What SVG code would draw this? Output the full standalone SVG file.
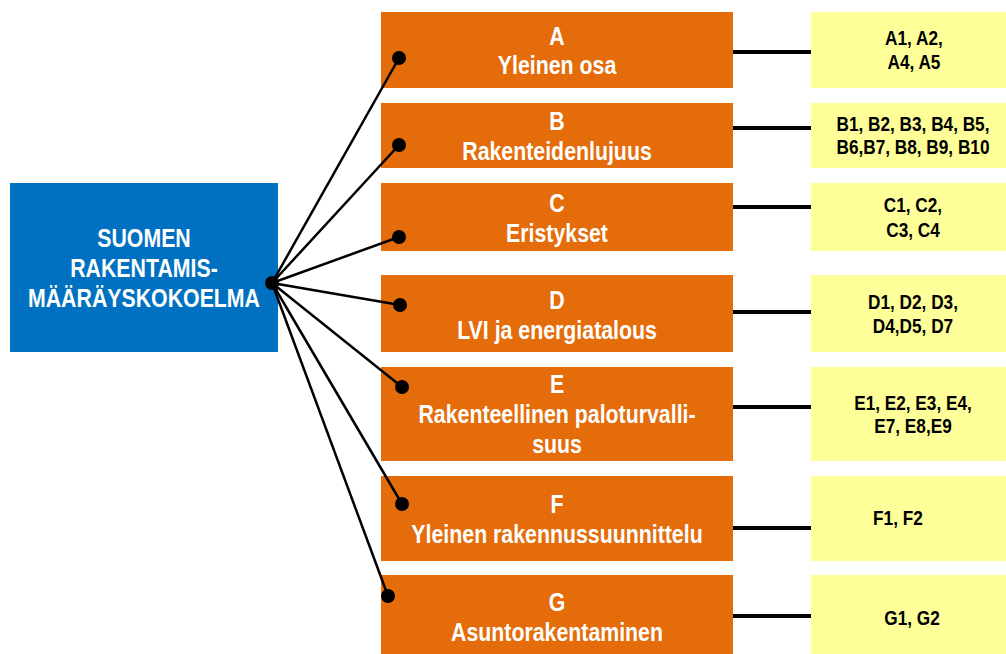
<svg xmlns="http://www.w3.org/2000/svg" width="1006" height="654" viewBox="0 0 1006 654">
<style>
.main{fill:#0070C0}
.cat{fill:#E46C0A}
.list{fill:#FFFF99}
text{font-family:"Liberation Sans","Arial",sans-serif;font-weight:bold;text-anchor:middle;transform:scaleX(0.82)}
.w{fill:#FFFFFF;font-size:26px}
.k{fill:#000000;font-size:21px}
.c{stroke:#000;stroke-width:2.5;fill:none}
.h{stroke:#000;stroke-width:4;fill:none}
.d{fill:#000}
</style>
<rect width="1006" height="654" fill="#FFFFFF"/>
<g id="main">
<rect class="main" x="10" y="183" width="268" height="169"/>
<text class="w" x="175.6" y="247">SUOMEN</text>
<text class="w" x="175.6" y="277">RAKENTAMIS-</text>
<text class="w" x="175.6" y="307">MÄÄRÄYSKOKOELMA</text>
</g>
<g id="A">
<rect class="cat" x="381" y="12" width="352" height="76"/>
<text class="w" x="679.3" y="45">A</text>
<text class="w" x="679.3" y="74">Yleinen osa</text>
</g>
<g id="B">
<rect class="cat" x="381" y="103" width="352" height="65"/>
<text class="w" x="679.3" y="130">B</text>
<text class="w" x="679.3" y="160">Rakenteidenlujuus</text>
</g>
<g id="C">
<rect class="cat" x="381" y="183" width="352" height="68"/>
<text class="w" x="679.3" y="212">C</text>
<text class="w" x="679.3" y="242">Eristykset</text>
</g>
<g id="D">
<rect class="cat" x="381" y="275" width="352" height="77"/>
<text class="w" x="679.3" y="309">D</text>
<text class="w" x="679.3" y="339">LVI ja energiatalous</text>
</g>
<g id="E">
<rect class="cat" x="381" y="367" width="352" height="94"/>
<text class="w" x="679.3" y="393">E</text>
<text class="w" x="679.3" y="423">Rakenteellinen paloturvalli-</text>
<text class="w" x="679.3" y="453">suus</text>
</g>
<g id="F">
<rect class="cat" x="381" y="476" width="352" height="85"/>
<text class="w" x="679.3" y="513">F</text>
<text class="w" x="679.3" y="543">Yleinen rakennussuunnittelu</text>
</g>
<g id="G">
<rect class="cat" x="381" y="575" width="352" height="85"/>
<text class="w" x="679.3" y="611">G</text>
<text class="w" x="679.3" y="641">Asuntorakentaminen</text>
</g>
<g id="A-list">
<rect class="list" x="811" y="12" width="205" height="76"/>
<text class="k" x="1114.6" y="45">A1, A2,</text>
<text class="k" x="1114.6" y="69">A4, A5</text>
</g>
<g id="B-list">
<rect class="list" x="811" y="103" width="205" height="65"/>
<text class="k" x="1113.4" y="131">B1, B2, B3, B4, B5,</text>
<text class="k" x="1113.4" y="154">B6,B7, B8, B9, B10</text>
</g>
<g id="C-list">
<rect class="list" x="811" y="183" width="205" height="68"/>
<text class="k" x="1113.4" y="212">C1, C2,</text>
<text class="k" x="1113.4" y="237">C3, C4</text>
</g>
<g id="D-list">
<rect class="list" x="811" y="275" width="205" height="77"/>
<text class="k" x="1113.4" y="309">D1, D2, D3,</text>
<text class="k" x="1113.4" y="333">D4,D5, D7</text>
</g>
<g id="E-list">
<rect class="list" x="811" y="367" width="205" height="94"/>
<text class="k" x="1113.4" y="410">E1, E2, E3, E4,</text>
<text class="k" x="1113.4" y="433">E7, E8,E9</text>
</g>
<g id="F-list">
<rect class="list" x="811" y="476" width="205" height="85"/>
<text class="k" x="1095.1" y="525">F1, F2</text>
</g>
<g id="G-list">
<rect class="list" x="811" y="575" width="205" height="85"/>
<text class="k" x="1112.2" y="625">G1, G2</text>
</g>
<g id="connectors">
<line class="c" x1="272" y1="283" x2="399" y2="58"/>
<line class="c" x1="272" y1="283" x2="399" y2="145"/>
<line class="c" x1="272" y1="283" x2="399" y2="237"/>
<line class="c" x1="272" y1="283" x2="400" y2="305"/>
<line class="c" x1="272" y1="283" x2="402" y2="387"/>
<line class="c" x1="272" y1="283" x2="402" y2="504"/>
<line class="c" x1="272" y1="283" x2="388" y2="596"/>
<circle class="d" cx="272" cy="283" r="7"/>
<circle class="d" cx="399" cy="58" r="7"/>
<circle class="d" cx="399" cy="145" r="7"/>
<circle class="d" cx="399" cy="237" r="7"/>
<circle class="d" cx="400" cy="305" r="7"/>
<circle class="d" cx="402" cy="387" r="7"/>
<circle class="d" cx="402" cy="504" r="7"/>
<circle class="d" cx="388" cy="596" r="7"/>
<line class="h" x1="733" y1="52" x2="811" y2="52"/>
<line class="h" x1="733" y1="128" x2="811" y2="128"/>
<line class="h" x1="733" y1="207" x2="811" y2="207"/>
<line class="h" x1="733" y1="312" x2="811" y2="312"/>
<line class="h" x1="733" y1="407" x2="811" y2="407"/>
<line class="h" x1="733" y1="528" x2="811" y2="528"/>
<line class="h" x1="733" y1="616" x2="811" y2="616"/>
</g>
</svg>
